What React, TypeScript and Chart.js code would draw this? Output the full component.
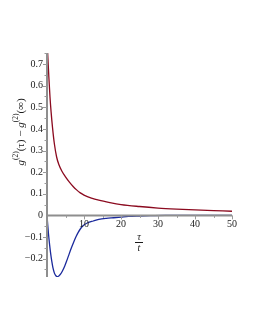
import { useEffect, useRef } from 'react';
import { Chart, registerables } from 'chart.js';

Chart.register(...registerables);

// tau/t values and g2 differences for the two curves
const tauRed = [0, 0.25, 0.5, 0.8, 1.1, 1.5, 2.0, 2.6, 3.2, 4.0, 5.0, 6.0, 7.0, 8.0, 9.0, 10, 12, 14, 17, 20, 25, 30, 35, 40, 45, 50];
const g2Red = [0.81, 0.725, 0.64, 0.55, 0.48, 0.405, 0.33, 0.27, 0.235, 0.205, 0.178, 0.155, 0.135, 0.118, 0.104, 0.094, 0.08, 0.07, 0.059, 0.05, 0.041, 0.034, 0.029, 0.025, 0.022, 0.019];

const tauBlue = [0, 0.2, 0.4, 0.7, 1.0, 1.3, 1.6, 2.0, 2.4, 2.8, 3.2, 3.7, 4.2, 4.8, 5.4, 6.0, 6.6, 7.2, 7.8, 8.4, 9.0, 9.8, 11, 12.5, 14, 16, 18, 20, 22, 25, 28, 32, 50];
const g2Blue = [0, -0.045, -0.085, -0.135, -0.178, -0.213, -0.242, -0.267, -0.279, -0.283, -0.28, -0.271, -0.256, -0.234, -0.207, -0.178, -0.15, -0.124, -0.1, -0.08, -0.063, -0.047, -0.034, -0.026, -0.019, -0.014, -0.011, -0.008, -0.005, -0.003, -0.0015, 0, 0];

const xTicks = [10, 20, 30, 40, 50];
const xMinorTicks = [5, 15, 25, 35, 45];
const yTicks = [-0.2, -0.1, 0, 0.1, 0.2, 0.3, 0.4, 0.5, 0.6, 0.7];
const yTickLabels = ['\u22120.2', '\u22120.1', '0', '0.1', '0.2', '0.3', '0.4', '0.5', '0.6', '0.7'];
const yMinorTicks = [-0.25, -0.15, -0.05, 0.05, 0.15, 0.25, 0.35, 0.45, 0.55, 0.65, 0.75];

const X_MIN = 0;
const X_MAX = 50;
const Y_MIN = -0.285;
const Y_MAX = 0.751;

const FONT = '"Liberation Serif", "DejaVu Serif", serif';

const axesPlugin = {
  id: 'mapleAxes',
  afterDatasetsDraw(chart: any) {
    const { ctx } = chart;
    const xs = chart.scales.x;
    const ys = chart.scales.y;
    const x0 = xs.getPixelForValue(0);
    const y0 = ys.getPixelForValue(0);
    ctx.save();
    ctx.strokeStyle = '#8e8e8e';
    ctx.lineWidth = 2;
    ctx.beginPath();
    ctx.moveTo(x0, ys.top);
    ctx.lineTo(x0, ys.bottom);
    ctx.stroke();
    ctx.beginPath();
    ctx.moveTo(xs.left, y0);
    ctx.lineTo(xs.right, y0);
    ctx.stroke();

    // tick marks
    ctx.lineWidth = 1;
    ctx.strokeStyle = '#9a9a9a';
    ctx.beginPath();
    xTicks.forEach((v) => {
      const p = Math.round(xs.getPixelForValue(v)) + 0.5;
      ctx.moveTo(p, y0);
      ctx.lineTo(p, y0 + 4);
    });
    xMinorTicks.forEach((v) => {
      const p = Math.round(xs.getPixelForValue(v)) + 0.5;
      ctx.moveTo(p, y0);
      ctx.lineTo(p, y0 + 2.5);
    });
    yTicks.forEach((v) => {
      if (v === 0) return;
      const p = Math.round(ys.getPixelForValue(v)) + 0.5;
      ctx.moveTo(x0, p);
      ctx.lineTo(x0 - 4, p);
    });
    yMinorTicks.forEach((v) => {
      const p = Math.round(ys.getPixelForValue(v)) + 0.5;
      ctx.moveTo(x0, p);
      ctx.lineTo(x0 - 2.5, p);
    });
    ctx.stroke();

    // tick labels
    ctx.fillStyle = '#1a1a1a';
    ctx.font = `10px ${FONT}`;
    ctx.textBaseline = 'middle';
    ctx.textAlign = 'center';
    xTicks.forEach((v) => {
      ctx.fillText(String(v), xs.getPixelForValue(v), y0 + 8.5);
    });
    ctx.textAlign = 'right';
    yTicks.forEach((v, i) => {
      ctx.fillText(yTickLabels[i], x0 - 4, ys.getPixelForValue(v));
    });

    // x title: tau over t
    const cx = 139;
    ctx.textAlign = 'center';
    ctx.font = `italic 10px ${FONT}`;
    ctx.fillText('\u03c4', cx, 237.5);
    ctx.fillRect(cx - 4, 242, 8, 1);
    ctx.fillText('t', cx, 248);

    // y title, rotated
    const parts = [
      { t: 'g', f: `italic 11px ${FONT}`, dy: 0 },
      { t: '(2)', f: `7.5px ${FONT}`, dy: -4.5 },
      { t: '(\u03c4) \u2212 ', f: `11px ${FONT}`, dy: 0 },
      { t: 'g', f: `italic 11px ${FONT}`, dy: 0 },
      { t: '(2)', f: `7.5px ${FONT}`, dy: -4.5 },
      { t: '(\u221e)', f: `11px ${FONT}`, dy: 0 },
    ];
    let total = 0;
    const widths = parts.map((p) => {
      ctx.font = p.f;
      const w = ctx.measureText(p.t).width;
      total += w;
      return w;
    });
    ctx.translate(21, 132);
    ctx.rotate(-Math.PI / 2);
    ctx.textAlign = 'left';
    ctx.textBaseline = 'middle';
    let px = -total / 2;
    parts.forEach((p, i) => {
      ctx.font = p.f;
      ctx.fillText(p.t, px, p.dy);
      px += widths[i];
    });
    ctx.restore();
  },
};

export default function App() {
  const ref = useRef<HTMLCanvasElement | null>(null);

  useEffect(() => {
    if (!ref.current) return;
    const chart = new Chart(ref.current, {
      type: 'line',
      data: {
        datasets: [
          {
            data: tauRed.map((t, i) => ({ x: t, y: g2Red[i] })),
            borderColor: '#8b0a1f',
            borderWidth: 1.3,
            pointRadius: 0,
            cubicInterpolationMode: 'monotone',
            fill: false,
          },
          {
            data: tauBlue.map((t, i) => ({ x: t, y: g2Blue[i] })),
            borderColor: '#1b2a9c',
            borderWidth: 1.3,
            pointRadius: 0,
            cubicInterpolationMode: 'monotone',
            fill: false,
          },
        ],
      },
      options: {
        animation: false,
        responsive: false,
        devicePixelRatio: 1,
        layout: { padding: { left: 47, right: 23, top: 53, bottom: 53 } },
        plugins: { legend: { display: false }, tooltip: { enabled: false } },
        scales: {
          x: { type: 'linear', min: X_MIN, max: X_MAX, display: false },
          y: { type: 'linear', min: Y_MIN, max: Y_MAX, display: false },
        },
      },
      plugins: [axesPlugin],
    } as any);
    return () => chart.destroy();
  }, []);

  return (
    <div style={{ position: 'fixed', left: 0, top: 0, width: 255, height: 330, background: '#fff' }}>
      <canvas ref={ref} width={255} height={330} style={{ width: 255, height: 330, display: 'block' }} />
    </div>
  );
}
